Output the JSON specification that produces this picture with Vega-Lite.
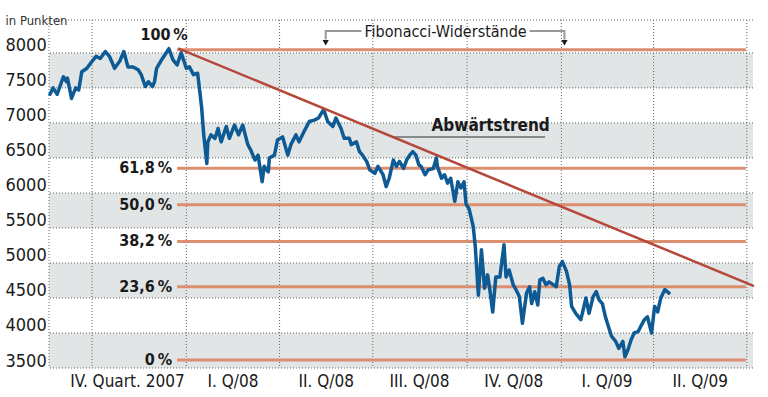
{
  "$schema": "https://vega.github.io/schema/vega-lite/v6.json",
  "width": 704,
  "height": 348,
  "autosize": {"type": "none"},
  "padding": {"left": 49, "top": 20, "right": 15, "bottom": 29},
  "background": "white",
  "config": {
    "view": {"stroke": null},
    "font": "Liberation Sans Narrow, DejaVu Sans Condensed, sans-serif",
    "axis": {"labelOverlap": false, "labelBound": false, "labelFlush": false}
  },
  "datasets": {
    "dax": [
      {"d":"2007-08-21","v":7410},{"d":"2007-08-24","v":7500},{"d":"2007-08-28","v":7410},{"d":"2007-09-03","v":7660},{"d":"2007-09-06","v":7590},{"d":"2007-09-07","v":7640},{"d":"2007-09-11","v":7350},{"d":"2007-09-15","v":7500},{"d":"2007-09-18","v":7470},{"d":"2007-09-21","v":7730},{"d":"2007-09-26","v":7780},{"d":"2007-10-01","v":7880},{"d":"2007-10-05","v":7950},{"d":"2007-10-09","v":7920},{"d":"2007-10-14","v":8020},{"d":"2007-10-18","v":7950},{"d":"2007-10-23","v":7780},{"d":"2007-10-28","v":7880},{"d":"2007-11-01","v":8020},{"d":"2007-11-05","v":7800},{"d":"2007-11-10","v":7800},{"d":"2007-11-15","v":7760},{"d":"2007-11-18","v":7690},{"d":"2007-11-22","v":7520},{"d":"2007-11-25","v":7590},{"d":"2007-11-29","v":7520},{"d":"2007-12-01","v":7590},{"d":"2007-12-03","v":7780},{"d":"2007-12-07","v":7880},{"d":"2007-12-11","v":7970},{"d":"2007-12-15","v":8060},{"d":"2007-12-19","v":7900},{"d":"2007-12-23","v":7830},{"d":"2007-12-27","v":8000},
      {"d":"2008-01-01","v":7780},{"d":"2008-01-04","v":7800},{"d":"2008-01-08","v":7690},{"d":"2008-01-12","v":7710},{"d":"2008-01-14","v":7470},{"d":"2008-01-16","v":7210},{"d":"2008-01-18","v":6830},{"d":"2008-01-21","v":6420},{"d":"2008-01-22","v":6730},{"d":"2008-01-25","v":6830},{"d":"2008-01-29","v":6780},{"d":"2008-02-01","v":6920},{"d":"2008-02-04","v":6730},{"d":"2008-02-09","v":6950},{"d":"2008-02-12","v":6780},{"d":"2008-02-17","v":6970},{"d":"2008-02-21","v":6830},{"d":"2008-02-25","v":6970},{"d":"2008-03-01","v":6690},{"d":"2008-03-04","v":6610},{"d":"2008-03-08","v":6470},{"d":"2008-03-11","v":6540},{"d":"2008-03-15","v":6160},{"d":"2008-03-17","v":6380},{"d":"2008-03-21","v":6300},{"d":"2008-03-22","v":6500},{"d":"2008-03-27","v":6540},{"d":"2008-03-30","v":6760},{"d":"2008-04-04","v":6800},{"d":"2008-04-09","v":6540},{"d":"2008-04-12","v":6690},{"d":"2008-04-17","v":6830},{"d":"2008-04-20","v":6730},{"d":"2008-04-25","v":6880},{"d":"2008-04-30","v":7020},{"d":"2008-05-05","v":7040},{"d":"2008-05-09","v":7070},{"d":"2008-05-14","v":7190},{"d":"2008-05-18","v":7020},{"d":"2008-05-23","v":6950},{"d":"2008-05-26","v":7070},{"d":"2008-05-31","v":6920},{"d":"2008-06-03","v":6780},{"d":"2008-06-08","v":6780},{"d":"2008-06-10","v":6690},{"d":"2008-06-15","v":6730},{"d":"2008-06-18","v":6590},{"d":"2008-06-21","v":6540},{"d":"2008-06-25","v":6450},{"d":"2008-06-28","v":6330},{"d":"2008-07-03","v":6280},{"d":"2008-07-06","v":6380},{"d":"2008-07-11","v":6260},{"d":"2008-07-14","v":6090},{"d":"2008-07-17","v":6210},{"d":"2008-07-21","v":6470},{"d":"2008-07-24","v":6380},{"d":"2008-07-27","v":6450},{"d":"2008-07-31","v":6350},{"d":"2008-08-03","v":6470},{"d":"2008-08-06","v":6540},{"d":"2008-08-09","v":6590},{"d":"2008-08-12","v":6540},{"d":"2008-08-15","v":6400},{"d":"2008-08-17","v":6380},{"d":"2008-08-21","v":6260},{"d":"2008-08-24","v":6330},{"d":"2008-08-29","v":6350},{"d":"2008-09-01","v":6500},{"d":"2008-09-02","v":6380},{"d":"2008-09-06","v":6210},{"d":"2008-09-09","v":6260},{"d":"2008-09-12","v":6140},{"d":"2008-09-15","v":6210},{"d":"2008-09-19","v":5880},{"d":"2008-09-22","v":6160},{"d":"2008-09-25","v":6070},{"d":"2008-09-28","v":6160},{"d":"2008-09-30","v":5840},{"d":"2008-10-03","v":5770},{"d":"2008-10-07","v":5520},{"d":"2008-10-09","v":5230},{"d":"2008-10-12","v":4540},{"d":"2008-10-15","v":5190},{"d":"2008-10-18","v":4640},{"d":"2008-10-21","v":4830},{"d":"2008-10-23","v":4640},{"d":"2008-10-26","v":4300},{"d":"2008-10-29","v":4800},{"d":"2008-11-02","v":4800},{"d":"2008-11-06","v":5260},{"d":"2008-11-08","v":4800},{"d":"2008-11-11","v":4900},{"d":"2008-11-15","v":4690},{"d":"2008-11-18","v":4610},{"d":"2008-11-21","v":4520},{"d":"2008-11-24","v":4140},{"d":"2008-11-28","v":4570},{"d":"2008-12-01","v":4660},{"d":"2008-12-03","v":4420},{"d":"2008-12-06","v":4590},{"d":"2008-12-09","v":4400},{"d":"2008-12-11","v":4760},{"d":"2008-12-14","v":4780},{"d":"2008-12-17","v":4690},{"d":"2008-12-20","v":4730},{"d":"2008-12-24","v":4690},{"d":"2008-12-27","v":4660},{"d":"2008-12-30","v":4950},
      {"d":"2009-01-02","v":5020},{"d":"2009-01-06","v":4880},{"d":"2009-01-09","v":4690},{"d":"2009-01-11","v":4380},{"d":"2009-01-15","v":4280},{"d":"2009-01-20","v":4190},{"d":"2009-01-25","v":4500},{"d":"2009-01-28","v":4280},{"d":"2009-02-01","v":4520},{"d":"2009-02-04","v":4590},{"d":"2009-02-07","v":4470},{"d":"2009-02-10","v":4420},{"d":"2009-02-13","v":4230},{"d":"2009-02-16","v":4090},{"d":"2009-02-19","v":3950},{"d":"2009-02-23","v":3880},{"d":"2009-02-26","v":3780},{"d":"2009-03-02","v":3880},{"d":"2009-03-04","v":3660},{"d":"2009-03-07","v":3760},{"d":"2009-03-10","v":3900},{"d":"2009-03-13","v":4000},{"d":"2009-03-17","v":4020},{"d":"2009-03-20","v":4110},{"d":"2009-03-23","v":4190},{"d":"2009-03-26","v":4230},{"d":"2009-03-30","v":4000},{"d":"2009-04-02","v":4380},{"d":"2009-04-05","v":4300},{"d":"2009-04-08","v":4500},{"d":"2009-04-12","v":4620},{"d":"2009-04-16","v":4570}
    ],
    "bands": [{"lo":3500,"hi":4000},{"lo":4500,"hi":5000},{"lo":5500,"hi":6000},{"lo":6500,"hi":7000},{"lo":7500,"hi":8000}],
    "hgrid": [{"v":3500},{"v":4000},{"v":4500},{"v":5000},{"v":5500},{"v":6000},{"v":6500},{"v":7000},{"v":7500},{"v":8000},{"v":8470}],
    "vgrid": [{"d":"2007-08-20"},{"d":"2007-10-01"},{"d":"2008-01-01"},{"d":"2008-04-01"},{"d":"2008-07-01"},{"d":"2008-10-01"},{"d":"2009-01-01"},{"d":"2009-04-01"},{"d":"2009-07-01"}],
    "fib": [
      {"lvl":"100\u2009%","v":8045,"s":"2007-12-23","e":"2009-06-30"},
      {"lvl":"61,8\u2009%","v":6353,"s":"2007-12-23","e":"2009-06-30"},
      {"lvl":"50,0\u2009%","v":5830,"s":"2007-12-23","e":"2009-06-30"},
      {"lvl":"38,2\u2009%","v":5307,"s":"2007-12-23","e":"2009-06-30"},
      {"lvl":"23,6\u2009%","v":4660,"s":"2007-12-23","e":"2009-06-30"},
      {"lvl":"0\u2009%","v":3615,"s":"2007-12-23","e":"2009-06-30"}
    ],
    "trend": [{"d":"2007-12-24","v":8065},{"d":"2009-07-08","v":4670}],
    "arrows": [
      {"g":"L","i":1,"d":"2008-06-20","v":8314},{"g":"L","i":2,"d":"2008-05-16","v":8314},{"g":"L","i":3,"d":"2008-05-16","v":8190},
      {"g":"R","i":1,"d":"2008-12-01","v":8314},{"g":"R","i":2,"d":"2009-01-04","v":8314},{"g":"R","i":3,"d":"2009-01-04","v":8190}
    ],
    "tips": [{"d":"2008-05-16","v":8145},{"d":"2009-01-04","v":8145}]
  },
  "layer": [
    {
      "data": {"name": "bands"},
      "mark": {"type": "rect", "color": "#e2e5e6"},
      "encoding": {
        "y": {"field": "lo", "type": "quantitative",
          "scale": {"domain": [3500, 8470], "nice": false, "zero": false},
          "axis": {
            "values": [3500,4000,4500,5000,5500,6000,6500,7000,7500,8000],
            "tickCount": 20,
            "format": "d",
            "title": "in Punkten", "titleAngle": 0, "titleAlign": "left", "titleBaseline": "alphabetic",
            "titleX": -44, "titleY": 4, "titleFontSize": 13, "titleFontWeight": "normal", "titleColor": "#333333",
            "ticks": false, "domain": false, "grid": false,
            "labelAlign": "left", "labelPadding": 44, "labelBaseline": "alphabetic", "labelOffset": -2,
            "labelFontSize": 18, "labelColor": "#1a1a1a", "labelOverlap": false, "labelBound": false, "labelFlush": false
          }
        },
        "y2": {"field": "hi"}
      }
    },
    {
      "data": {"name": "hgrid"},
      "mark": {"type": "rule", "color": "#666666", "strokeWidth": 1, "strokeDash": [1, 2]},
      "encoding": {"y": {"field": "v", "type": "quantitative"}}
    },
    {
      "data": {"name": "vgrid"},
      "mark": {"type": "rule", "color": "#666666", "strokeWidth": 1, "strokeDash": [1, 2]},
      "encoding": {
        "x": {"field": "d", "type": "temporal",
          "scale": {"type": "utc", "domain": [{"year": 2007, "month": 8, "date": 20, "utc": true}, {"year": 2009, "month": 7, "date": 7, "utc": true}]},
          "axis": {
            "values": [
              {"year": 2007, "month": 11, "date": 4, "utc": true},
              {"year": 2008, "month": 2, "date": 15, "utc": true},
              {"year": 2008, "month": 5, "date": 16, "utc": true},
              {"year": 2008, "month": 8, "date": 15, "utc": true},
              {"year": 2008, "month": 11, "date": 15, "utc": true},
              {"year": 2009, "month": 2, "date": 14, "utc": true},
              {"year": 2009, "month": 5, "date": 16, "utc": true}
            ],
            "tickCount": 20,
            "labelExpr": "utcyear(datum.value) == 2007 ? 'IV. Quart. 2007' : ['I.','II.','III.','IV.'][utcquarter(datum.value) - 1] + ' Q/' + utcFormat(datum.value, '%y')",
            "title": null, "ticks": false, "domain": false, "grid": false,
            "labelFontSize": 17, "labelColor": "#1a1a1a", "labelPadding": 5, "labelBaseline": "top",
            "labelOverlap": false, "labelBound": false, "labelFlush": false
          }
        }
      }
    },
    {
      "data": {"name": "fib"},
      "mark": {"type": "rule", "color": "#dc8f6e", "strokeWidth": 3},
      "encoding": {
        "x": {"field": "s", "type": "temporal"},
        "x2": {"field": "e"},
        "y": {"field": "v", "type": "quantitative"}
      }
    },
    {
      "data": {"name": "fib"},
      "transform": [{"filter": "datum.v < 8000"}],
      "mark": {"type": "text", "align": "right", "baseline": "middle", "dx": -5, "fontSize": 16, "fontWeight": "bold", "color": "#1a1a1a"},
      "encoding": {
        "x": {"field": "s", "type": "temporal"},
        "y": {"field": "v", "type": "quantitative"},
        "text": {"field": "lvl"}
      }
    },
    {
      "data": {"name": "fib"},
      "transform": [{"filter": "datum.v > 8000"}],
      "mark": {"type": "text", "align": "center", "baseline": "middle", "dx": -13, "dy": -15, "fontSize": 16, "fontWeight": "bold", "color": "#1a1a1a"},
      "encoding": {
        "x": {"field": "s", "type": "temporal"},
        "y": {"field": "v", "type": "quantitative"},
        "text": {"field": "lvl"}
      }
    },
    {
      "data": {"values": [{"s": "2008-07-21", "e": "2008-12-16", "v": 6800}]},
      "mark": {"type": "rule", "color": "#8a8a8a", "strokeWidth": 2},
      "encoding": {
        "x": {"field": "s", "type": "temporal"},
        "x2": {"field": "e"},
        "y": {"field": "v", "type": "quantitative"}
      }
    },
    {
      "data": {"name": "arrows"},
      "mark": {"type": "line", "color": "#999999", "strokeWidth": 2},
      "encoding": {
        "x": {"field": "d", "type": "temporal"},
        "y": {"field": "v", "type": "quantitative"},
        "detail": {"field": "g"},
        "order": {"field": "i"}
      }
    },
    {
      "data": {"name": "tips"},
      "mark": {"type": "point", "shape": "triangle-down", "filled": true, "size": 40, "color": "#1a1a1a", "opacity": 1},
      "encoding": {
        "x": {"field": "d", "type": "temporal"},
        "y": {"field": "v", "type": "quantitative"}
      }
    },
    {
      "data": {"values": [{"t": "Fibonacci-Widerstände", "d": "2008-09-10", "v": 8300}]},
      "mark": {"type": "text", "align": "center", "baseline": "middle", "fontSize": 16, "color": "#1a1a1a"},
      "encoding": {
        "x": {"field": "d", "type": "temporal"},
        "y": {"field": "v", "type": "quantitative"},
        "text": {"field": "t"}
      }
    },
    {
      "data": {"values": [{"t": "Abwärtstrend", "d": "2008-10-24", "v": 6957}]},
      "mark": {"type": "text", "align": "center", "baseline": "middle", "fontSize": 17, "fontWeight": "bold", "color": "#1a1a1a"},
      "encoding": {
        "x": {"field": "d", "type": "temporal"},
        "y": {"field": "v", "type": "quantitative"},
        "text": {"field": "t"}
      }
    },
    {
      "data": {"name": "dax"},
      "mark": {"type": "line", "color": "#0d5a94", "strokeWidth": 3.5, "strokeJoin": "round", "strokeCap": "round"},
      "encoding": {
        "x": {"field": "d", "type": "temporal"},
        "y": {"field": "v", "type": "quantitative"}
      }
    },
    {
      "data": {"name": "trend"},
      "mark": {"type": "line", "color": "#b6483b", "strokeWidth": 2.5},
      "encoding": {
        "x": {"field": "d", "type": "temporal"},
        "y": {"field": "v", "type": "quantitative"}
      }
    }
  ]
}
